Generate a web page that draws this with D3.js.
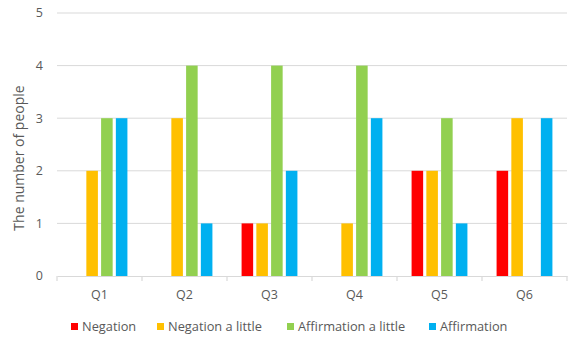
<!DOCTYPE html>
<html>
<head>
<meta charset="utf-8">
<script src="https://cdn.jsdelivr.net/npm/d3@7"></script>
<style>
  html, body { margin: 0; padding: 0; background: #fff; }
  svg { display: block; font-family: "Open Sans", "Noto Sans", sans-serif; }
</style>
</head>
<body>
<svg id="chart" width="571" height="338"></svg>
<script>
// Survey answers per question
const questions = ["Q1", "Q2", "Q3", "Q4", "Q5", "Q6"];
const seriesNames = ["Negation", "Negation a little", "Affirmation a little", "Affirmation"];
const negation = [0, 0, 1, 0, 2, 2];
const negationLittle = [2, 3, 1, 1, 2, 3];
const affirmationLittle = [3, 4, 4, 4, 3, 0];
const affirmation = [3, 1, 2, 3, 1, 3];
const yTicks = [0, 1, 2, 3, 4, 5];
const colors = ["#FF0000", "#FFC000", "#92D050", "#00B0F0"];

const seriesValues = [negation, negationLittle, affirmationLittle, affirmation];

const svg = d3.select("#chart");
const margin = { left: 57, right: 4, top: 13, bottom: 62 };
const width = 571, height = 338;
const textColor = "#595959";

const x = d3.scaleBand().domain(questions).range([margin.left, width - margin.right]);
const xInner = d3.scaleBand().domain(seriesNames).range([0, x.bandwidth()]).paddingOuter(0.88).paddingInner(0);
const y = d3.scaleLinear().domain([0, 5]).range([height - margin.bottom, margin.top]);

// Horizontal gridlines
svg.append("g").selectAll("line").data(yTicks.filter(d => d > 0)).join("line")
  .attr("x1", margin.left).attr("x2", width - margin.right)
  .attr("y1", d => y(d)).attr("y2", d => y(d))
  .attr("stroke", "#D9D9D9").attr("stroke-width", 1);

// Y axis labels
svg.append("g").selectAll("text").data(yTicks).join("text")
  .attr("x", 43).attr("y", d => y(d)).attr("dy", "0.35em")
  .attr("text-anchor", "end").attr("font-size", 12.5).attr("fill", textColor)
  .text(d => d);

// Y axis title
svg.append("text")
  .attr("transform", `translate(24,158) rotate(-90)`)
  .attr("text-anchor", "middle").attr("font-size", 14).attr("fill", textColor)
  .text("The number of people");

// Bars
const groups = svg.append("g").selectAll("g").data(questions).join("g")
  .attr("transform", d => `translate(${x(d)},0)`);
groups.selectAll("rect")
  .data((q, qi) => seriesNames.map((s, si) => ({ s, si, v: seriesValues[si][qi] })))
  .join("rect")
  .filter(d => d.v > 0)
  .attr("x", d => xInner(d.s) + 1.6)
  .attr("width", xInner.bandwidth() - 3.2)
  .attr("y", d => y(d.v))
  .attr("height", d => y(0) - y(d.v))
  .attr("fill", d => colors[d.si]);

// X axis line and ticks
const xAxis = d3.axisBottom(x).tickSize(0).tickFormat(d => d);
const xg = svg.append("g").attr("transform", `translate(0,${y(0)})`).call(xAxis);
xg.select(".domain").attr("stroke", "#D9D9D9").attr("stroke-width", 1.2);
xg.selectAll("text").attr("font-size", 12.5).attr("fill", textColor)
  .attr("font-family", "'Open Sans', sans-serif").attr("dy", 0).attr("y", 23);
const boundaries = questions.map(q => x(q)).concat([x(questions[questions.length - 1]) + x.bandwidth()]);
svg.append("g").selectAll("line").data(boundaries).join("line")
  .attr("x1", d => d).attr("x2", d => d)
  .attr("y1", y(0)).attr("y2", y(0) + 5)
  .attr("stroke", "#D9D9D9").attr("stroke-width", 1.2);

// Legend
const legendX = [71, 157, 287, 429];
const legend = svg.append("g").selectAll("g").data(seriesNames).join("g")
  .attr("transform", (d, i) => `translate(${legendX[i]},323)`);
legend.append("rect").attr("width", 7).attr("height", 7).attr("fill", (d, i) => colors[i]);
legend.append("text").attr("x", 11).attr("y", 3.5).attr("dy", "0.35em")
  .attr("font-size", 12.8).attr("fill", textColor).text(d => d);
</script>
</body>
</html>
